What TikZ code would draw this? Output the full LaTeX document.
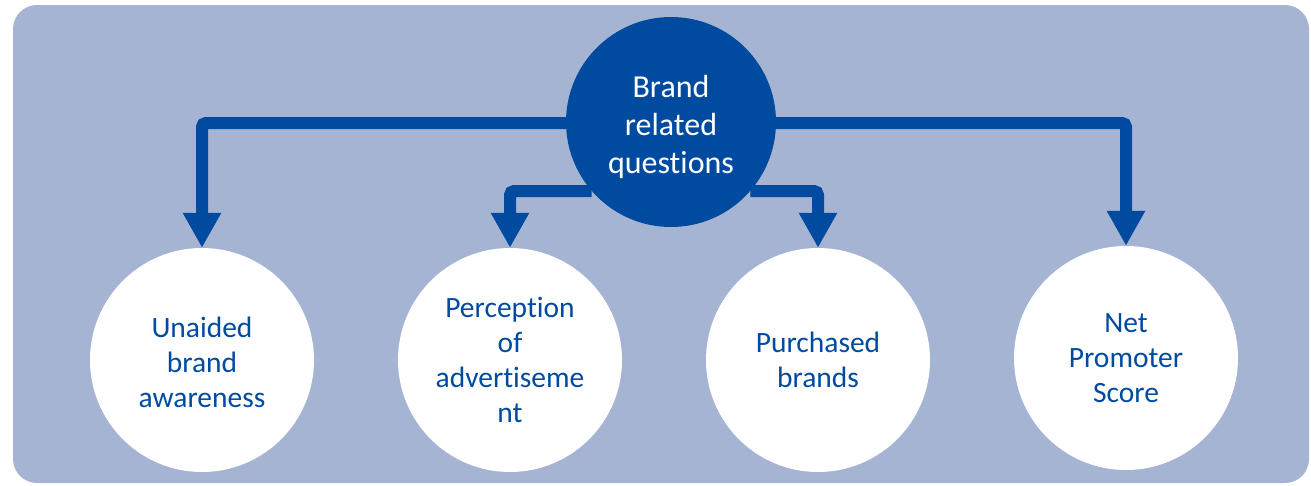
\documentclass[tikz,border=0pt]{standalone}
\usepackage{fontspec}
\setmainfont{Carlito}[Ligatures=NoCommon]
\usetikzlibrary{arrows.meta}
\definecolor{bgblue}{RGB}{166,180,211}
\definecolor{dkblue}{RGB}{0,75,160}
\tikzset{
  leaf/.style={circle, fill=white, minimum size=224pt, inner sep=0pt, text=dkblue, align=center, font=\fontsize{29.5}{35}\selectfont},
  hub/.style={circle, fill=dkblue, minimum size=210pt, inner sep=0pt, text=white, align=center, font=\fontsize{32}{38}\selectfont},
  link/.style={draw=dkblue, line width=12pt, rounded corners=4pt, -{Triangle[width=36pt,length=35pt]}}
}
\begin{document}
\begin{tikzpicture}[x=1pt,y=-1pt]
\useasboundingbox (0,0) rectangle (1311,485);
\fill[bgblue, rounded corners=24pt] (13,5) rectangle (1309,483);
\node[hub] (c) at (671,122) {\rule{0pt}{32pt}Brand\\related\\questions};
\node[leaf] (u) at (202,360) {\rule{0pt}{26pt}Unaided\\brand\\awareness};
\node[leaf] (p) at (510,360) {Perception\\of\\advertiseme\\nt};
\node[leaf] (b) at (818,360) {Purchased\\brands};
\node[leaf] (n) at (1126,358) {Net\\Promoter\\Score};
\draw[link] ([yshift=-1pt]c.west) -| (u.north);
\draw[link] ([yshift=-1pt]c.east) -| (n.north);
\draw[link] (c.221) -| (p.north);
\draw[link] (c.319) -| (b.north);
\end{tikzpicture}
\end{document}
